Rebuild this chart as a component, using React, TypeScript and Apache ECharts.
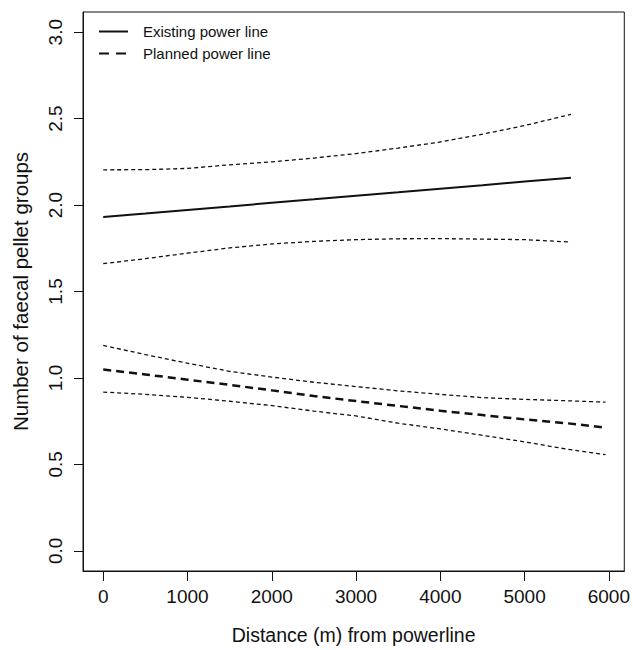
import React, { useEffect, useRef } from "react";
import * as echarts from "echarts";

// Distance (m) from powerline
const existingX = [0, 500, 1000, 1500, 2000, 2500, 3000, 3500, 4000, 4500, 5000, 5550];
const existingFit = [1.931, 1.951, 1.972, 1.992, 2.013, 2.033, 2.054, 2.074, 2.095, 2.115, 2.136, 2.158];
const existingUpper = [2.204, 2.205, 2.212, 2.233, 2.25, 2.272, 2.298, 2.33, 2.365, 2.41, 2.46, 2.525];
const existingLower = [1.661, 1.69, 1.722, 1.752, 1.775, 1.79, 1.8, 1.805, 1.806, 1.803, 1.8, 1.786];

const plannedX = [0, 500, 1000, 1500, 2000, 2500, 3000, 3500, 4000, 4500, 5000, 5500, 5960];
const plannedFit = [1.049, 1.02, 0.99, 0.96, 0.928, 0.895, 0.866, 0.838, 0.81, 0.785, 0.76, 0.738, 0.712];
const plannedUpper = [1.188, 1.135, 1.085, 1.038, 1.005, 0.975, 0.95, 0.925, 0.905, 0.886, 0.876, 0.868, 0.86];
const plannedLower = [0.918, 0.905, 0.888, 0.865, 0.84, 0.808, 0.78, 0.738, 0.705, 0.668, 0.63, 0.588, 0.556];

const xTicks = [0, 1000, 2000, 3000, 4000, 5000, 6000];
const yTicks = [0, 0.5, 1, 1.5, 2, 2.5, 3];

const legendNames = ["Existing power line", "Planned power line"];

const FONT = "'Liberation Sans', Arial, Helvetica, sans-serif";
const INK = "#111";

const zip = (xs: number[], ys: number[]) => xs.map((x, i) => [x, ys[i]]);

export default function App() {
  const ref = useRef<HTMLDivElement>(null);
  useEffect(() => {
    if (!ref.current) return;
    const chart = echarts.init(ref.current, undefined, { renderer: "svg" });
    const ciStyle = { color: INK, width: 1.3, type: [4, 3] as number[] };
    const lineSeries = (name: string, data: number[][], lineStyle: any) => ({
      name,
      type: "line",
      data,
      symbol: "none",
      showSymbol: false,
      smooth: false,
      lineStyle,
      itemStyle: { color: INK },
      silent: true,
    });
    chart.setOption({
      animation: false,
      backgroundColor: "#fff",
      textStyle: { fontFamily: FONT },
      grid: {
        left: 83,
        top: 12,
        width: 544,
        height: 560,
        show: true,
        borderColor: INK,
        borderWidth: 1,
        backgroundColor: "transparent",
      },
      legend: {
        data: [
          {
            name: legendNames[0],
            itemStyle: { opacity: 0 },
            lineStyle: { color: INK, width: 2, type: "solid" },
          },
          {
            name: legendNames[1],
            itemStyle: { opacity: 0 },
            lineStyle: { color: INK, width: 2, type: [10, 7] },
          },
        ],
        orient: "vertical",
        left: 98,
        top: 24,
        padding: 0,
        itemWidth: 29,
        itemHeight: 16,
        itemGap: 7,
        textStyle: { fontFamily: FONT, fontSize: 15, color: INK, padding: [0, 0, 0, 10] },
        selectedMode: false,
      },
      xAxis: {
        type: "value",
        min: -240,
        max: 6183,
        name: "Distance (m) from powerline",
        nameLocation: "middle",
        nameGap: 54,
        nameTextStyle: { fontFamily: FONT, fontSize: 19.5, color: INK },
        axisLine: { show: true, onZero: false, lineStyle: { color: INK, width: 1 } },
        axisTick: { show: true, length: 10, customValues: xTicks, lineStyle: { color: INK, width: 1 } },
        axisLabel: {
          customValues: xTicks,
          margin: 16,
          fontFamily: FONT,
          fontSize: 19,
          color: INK,
          formatter: (v: number) => String(v),
        },
        splitLine: { show: false },
      },
      yAxis: {
        type: "value",
        min: -0.117,
        max: 3.117,
        name: "Number of faecal pellet groups",
        nameLocation: "middle",
        nameGap: 52,
        nameTextStyle: { fontFamily: FONT, fontSize: 20.5, color: INK },
        axisLine: { show: true, onZero: false, lineStyle: { color: INK, width: 1 } },
        axisTick: { show: true, length: 9, customValues: yTicks, lineStyle: { color: INK, width: 1 } },
        axisLabel: {
          customValues: yTicks,
          rotate: 90,
          margin: 18,
          fontFamily: FONT,
          fontSize: 19,
          color: INK,
          formatter: (v: number) => v.toFixed(1),
        },
        splitLine: { show: false },
      },
      series: [
        lineSeries(legendNames[0], zip(existingX, existingFit), { color: INK, width: 2, type: "solid" }),
        lineSeries("Existing upper", zip(existingX, existingUpper), ciStyle),
        lineSeries("Existing lower", zip(existingX, existingLower), ciStyle),
        lineSeries(legendNames[1], zip(plannedX, plannedFit), { color: INK, width: 2.5, type: [8, 5] }),
        lineSeries("Planned upper", zip(plannedX, plannedUpper), ciStyle),
        lineSeries("Planned lower", zip(plannedX, plannedLower), ciStyle),
      ],
    });
    return () => chart.dispose();
  }, []);
  return (
    <div
      ref={ref}
      style={{ position: "fixed", left: 0, top: 0, width: 633, height: 650, background: "#fff" }}
    />
  );
}
